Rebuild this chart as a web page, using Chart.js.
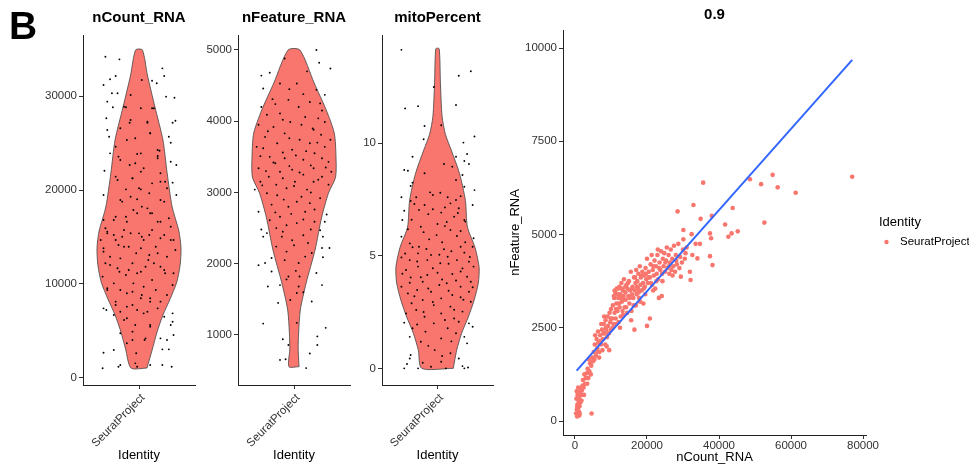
<!DOCTYPE html>
<html>
<head>
<meta charset="utf-8">
<script src="https://cdn.jsdelivr.net/npm/chart.js@4"></script>
<style>
  html, body { margin: 0; padding: 0; background: #fff; }
  #wrap { position: relative; width: 969px; height: 468px; overflow: hidden; }
  #wrap canvas { position: absolute; left: 0; top: 0; }
  #tag { position: absolute; left: 9px; top: 6px; font: bold 39px "Liberation Sans", Arial, sans-serif; line-height: 39px; color: #000; }
</style>
</head>
<body>
<div id="wrap">
  <canvas id="countChart" width="969" height="468"></canvas>
  <canvas id="featureChart" width="969" height="468"></canvas>
  <canvas id="mitoChart" width="969" height="468"></canvas>
  <canvas id="scatterChart" width="969" height="468"></canvas>
  <div id="tag">B</div>
</div>
<script>
const identityLabel = 'SeuratProject';

// violin outlines: value -> relative density (1 = widest)
const countProfileValues = [1060, 3090, 4890, 6700, 8400, 10210, 12040, 13830, 15640, 18190, 21800, 25320, 28830, 32230, 34900];
const countProfileDensity = [0.19, 0.32, 0.43, 0.57, 0.74, 0.90, 0.98, 1.0, 0.95, 0.79, 0.67, 0.57, 0.38, 0.20, 0.08];
const featureProfileValues = [555, 800, 1030, 1350, 1730, 2190, 2655, 2990, 3215, 3495, 3830, 4154, 4537, 5000];
const featureProfileDensity = [0.12, 0.10, 0.11, 0.15, 0.29, 0.50, 0.66, 0.82, 0.99, 1.0, 0.96, 0.77, 0.48, 0.14];
const mitoProfileValues = [0, 0.8, 1.56, 2.28, 3.03, 3.78, 4.49, 5.38, 6.27, 7.46, 8.65, 9.7, 10.4, 11.2, 12.7, 14.2];
const mitoProfileDensity = [0.38, 0.46, 0.58, 0.74, 0.88, 0.98, 1.0, 0.90, 0.72, 0.67, 0.53, 0.33, 0.19, 0.11, 0.07, 0.04];

// jittered cells: [jitter offset, value]
const countPoints = [
  [-0.36,34180],[-0.21,33900],[0.25,32940],[0.27,32130],[-0.25,32130],[-0.31,31780],[-0.38,31170],[0.14,31630],[0.19,31350],
  [-0.29,30290],[-0.23,30290],[0.29,29930],[0.38,29820],[-0.34,29400],[-0.28,28800],[-0.14,28800],[0.02,28690],[0.16,28690],
  [-0.35,27630],[0.39,27370],[0.36,27160],[0.09,27160],[-0.10,27160],[-0.34,26380],[0.12,26030],[0.32,25670],[-0.32,25670],
  [0.34,25030],[-0.13,25320],[-0.25,24610],[0.22,24180],[-0.31,23900],[-0.02,23830],[0.20,23620],[-0.20,23190],[-0.04,22840],
  [0.34,23010],[0.40,22660],[0.05,22310],[-0.37,22050],[0.23,21780],[-0.23,21060],[-0.07,21240],[0.14,20710],[0.28,20880],
  [0.36,20780],[-0.14,20070],[0.02,20070],[0.30,20180],[0.40,19470],[-0.38,19470],[-0.02,19010],[-0.18,18760],[0.27,18760],
  [0.09,18050],[-0.06,17870],[0.14,17520],[-0.25,17160],[0.32,16990],[-0.38,16810],[-0.13,16630],[0.20,16630],[0.34,16100],
  [0.14,15740],[-0.16,15740],[-0.34,15390],[0.00,15390],[0.27,15210],[-0.25,14680],[0.05,14680],[-0.41,14680],[0.37,14680],
  [-0.11,13970],[0.18,13970],[-0.38,13800],[0.39,13620],[-0.03,13270],[-0.31,12900],[0.30,12900],[-0.20,12730],[0.10,12550],
  [-0.36,12200],[-0.07,12200],[0.23,11840],[0.27,11490],[-0.23,11670],[0.02,11310],[0.37,11140],[-0.14,10960],[-0.39,10780],
  [0.14,10430],[-0.06,10070],[-0.27,10070],[0.36,9890],[0.05,9710],[0.18,9360],[-0.34,9360],[-0.13,9010],[0.30,8830],
  [0.02,8480],[-0.25,8120],[0.12,8120],[-0.07,7770],[-0.38,7410],[-0.35,7230],[0.20,7410],[-0.20,7050],[0.05,6880],
  [0.36,6880],[-0.27,6700],[0.27,6520],[-0.13,6350],[0.36,5990],[0.12,5640],[0.34,5640],[-0.20,4760],[0.37,4570],
  [-0.07,4930],[0.23,4220],[0.06,4040],[-0.13,3690],[0.30,4040],[-0.27,2980],[0.25,3050],[-0.38,2690],[-0.03,2630],
  [0.32,3050],[-0.20,1380],[-0.04,1560],[0.12,1380],[0.25,1380],[0.35,1200],[-0.39,1030],[-0.02,1200],[-0.22,1200],
  [-0.34,15570],[-0.27,15220],[-0.18,15030],[-0.09,15400],[0.03,15030],[0.11,15220],[0.23,14860],[0.34,14680],[-0.38,13440],
  [-0.22,14150],[-0.16,13970],[0.02,13800],[0.11,13090],[0.20,13270],[0.28,11140],[-0.31,12020],[-0.21,11310],[-0.11,11490],
  [-0.02,11140],[0.07,11840],[0.16,12200],[-0.34,9540],[-0.20,9360],[-0.07,9180],[0.03,8830],[0.12,8480],[0.23,8120],
  [-0.25,7770],[-0.13,7590],[-0.02,7230],[0.09,7050],[-0.16,6170],[-0.04,5640],[0.12,5460],[-0.07,4040],[0.07,4220],
  [0.03,31710],[-0.09,30110],[-0.16,28870],[0.14,28690],[-0.09,27450],[0.09,27270],[-0.20,26570],[0.12,26030],[-0.04,25500],
  [0.20,24260],[-0.22,23550],[0.02,23900],[-0.10,22660],[0.20,23380],[0.02,21950],[-0.25,21420],[-0.07,21250],[0.23,20890],
  [0.00,20180],[0.11,19650],[-0.20,18940],[-0.09,19290],[0.23,18940],[0.03,18230],[-0.27,16810],[-0.14,17160],[-0.02,17520],
  [0.12,17520],[0.23,16630],[-0.36,15930]
];
const featurePoints = [
  [0.24,5000],[0.27,4820],[0.39,4740],[-0.10,4880],[-0.35,4640],[-0.26,4680],[0.14,4700],[-0.15,4530],[-0.33,4460],
  [0.24,4440],[0.03,4530],[0.33,4370],[-0.23,4310],[-0.06,4300],[0.17,4270],[-0.35,4200],[0.28,4250],[-0.15,4110],
  [0.05,4200],[-0.29,4090],[0.12,4060],[0.26,4040],[-0.04,3990],[-0.38,3950],[0.33,3990],[-0.22,3920],[0.21,3880],
  [-0.10,3830],[-0.31,3780],[0.29,3810],[0.06,3740],[0.39,3740],[-0.18,3690],[0.17,3690],[-0.40,3640],[-0.02,3600],
  [0.33,3640],[-0.26,3500],[-0.36,3510],[0.22,3550],[-0.10,3480],[0.10,3460],[0.37,3430],[-0.20,3410],[-0.38,3340],
  [0.21,3340],[-0.02,3320],[-0.15,3290],[0.40,3290],[0.10,3250],[-0.27,3220],[0.30,3220],[-0.36,3150],[0.01,3150],
  [0.21,3150],[-0.19,3110],[0.37,3110],[-0.42,3040],[-0.08,3060],[0.14,3040],[-0.29,2990],[0.28,2920],[-0.11,2900],
  [0.03,2870],[0.17,2850],[-0.24,2830],[-0.06,2800],[-0.38,2730],[0.12,2730],[0.35,2690],[-0.15,2660],[-0.26,2610],
  [0.22,2590],[0.03,2570],[0.33,2590],[-0.08,2540],[-0.19,2500],[-0.35,2480],[0.28,2470],[-0.29,2430],[0.10,2400],
  [-0.13,2380],[-0.33,2380],[0.31,2380],[-0.02,2330],[0.15,2290],[-0.19,2240],[0.30,2220],[0.38,2220],[-0.08,2170],
  [0.19,2150],[-0.24,2080],[0.31,2090],[-0.38,1980],[-0.31,2010],[0.05,2010],[0.24,1870],[-0.24,1890],[-0.06,1820],
  [0.06,1820],[-0.15,1700],[0.30,1700],[-0.28,1680],[0.05,1680],[0.03,1590],[-0.04,1490],[0.19,1470],[-0.17,1450],
  [0.03,1170],[-0.33,1160],[0.34,1100],[-0.12,940],[0.25,980],[-0.06,860],[0.25,860],[-0.15,650],[-0.09,660],
  [0.17,740],[0.13,535],
  [-0.05,4450],[0.10,4380],[-0.20,4240],[0.30,4150],[-0.12,4020],[0.08,3950],[0.20,3900],[-0.28,3860],[-0.05,3760],[0.25,3700],
  [-0.33,3620],[0.13,3580],[-0.12,3560],[0.02,3520],[0.30,3480],[-0.22,3420],[0.18,3380],[-0.05,3370],[0.34,3350],[-0.30,3300],
  [0.06,3280],[-0.12,3200],[0.26,3180],[-0.34,3100],[0.00,3090],[0.18,3000],[-0.18,2960],[0.08,2940],[-0.03,2700],[0.22,2760],
  [-0.20,2720],[0.10,2620],[-0.12,2450],[0.18,2480],[0.00,2260],[-0.10,2050],[0.12,2100],[0.02,1900],[-0.08,1780],[0.10,1600]
];
const mitoPoints = [
  [-0.39,14.15],[0.36,13.2],[0.23,13.0],[-0.04,12.5],[-0.35,11.55],[-0.21,11.65],[0.20,11.7],[-0.14,10.77],[0.04,10.8],
  [0.40,10.3],[-0.15,10.18],[0.28,10.03],[-0.27,9.4],[0.20,9.4],[0.32,9.52],[0.29,9.21],[0.07,9.08],[-0.36,8.81],
  [-0.32,8.78],[0.34,9.08],[0.16,8.96],[-0.14,8.67],[0.27,8.59],[-0.27,8.25],[0.20,8.37],[-0.29,8.1],[0.29,8.07],
  [0.40,7.92],[-0.08,7.82],[0.03,7.8],[-0.39,7.6],[-0.23,7.6],[0.11,7.6],[0.20,7.48],[-0.29,7.44],[-0.14,7.26],
  [0.14,7.33],[0.38,7.26],[-0.20,7.04],[-0.05,7.07],[0.23,7.11],[-0.36,7.0],[0.04,6.92],[0.18,6.74],[0.29,6.59],
  [-0.38,6.59],[-0.18,6.29],[0.00,6.41],[0.08,6.32],[0.30,6.52],[-0.32,6.18],[0.14,6.15],[-0.39,5.85],[-0.09,5.73],
  [0.21,5.88],[0.39,5.78],[-0.01,5.92],[-0.20,5.4],[0.25,5.4],[-0.27,5.38],[0.38,5.4],[0.07,5.29],[-0.21,5.11],
  [-0.07,5.04],[0.29,5.14],[-0.39,4.93],[0.11,4.96],[-0.30,4.81],[-0.11,4.81],[0.21,4.81],[0.34,4.74],[0.03,4.67],
  [-0.21,4.52],[0.27,4.44],[-0.34,4.37],[0.39,4.52],[0.00,4.25],[-0.11,4.15],[0.16,4.19],[0.32,4.07],[-0.29,4.04],
  [-0.16,3.85],[0.10,3.78],[0.02,3.7],[0.36,3.85],[-0.39,3.63],[0.25,3.63],[-0.22,3.48],[-0.07,3.4],[-0.32,3.33],
  [0.16,3.26],[0.34,3.4],[0.04,3.11],[-0.16,3.04],[0.25,3.16],[-0.28,2.89],[0.36,2.96],[-0.04,2.81],[0.14,2.74],
  [-0.23,2.59],[0.27,2.52],[-0.34,2.44],[0.04,2.44],[-0.14,2.29],[0.18,2.22],[-0.36,2.03],[0.34,2.0],[-0.04,2.0],
  [0.23,2.07],[-0.27,1.78],[0.11,1.78],[0.38,1.85],[-0.13,1.63],[0.20,1.56],[-0.30,1.4],[0.29,1.4],[0.04,1.33],
  [-0.18,1.18],[0.32,1.11],[-0.03,0.81],[-0.29,0.59],[0.14,0.67],[-0.30,0.44],[0.23,0.44],[-0.16,0.25],[0.04,0.29],
  [-0.36,0],[-0.21,0],[-0.07,0.07],[0.09,0],[0.27,0.1],[0.29,0],[0.33,0.04],[-0.33,0.19],
  [-0.05,7.7],[0.25,7.65],[-0.25,7.3],[0.08,7.15],[-0.10,6.85],[0.22,6.9],[-0.28,6.6],[0.10,6.5],[-0.15,6.05],[0.25,6.1],
  [0.05,5.6],[-0.30,5.55],[0.30,5.6],[-0.12,5.3],[0.15,5.2],[-0.35,5.1],[0.02,5.05],[0.35,4.95],[-0.22,4.75],[0.12,4.65],
  [-0.05,4.45],[0.25,4.3],[-0.38,4.2],[-0.18,4.05],[0.05,3.95],[0.20,3.9],[-0.30,3.8],[0.38,3.6],[-0.10,3.55],[0.12,3.45],
  [-0.25,3.2],[0.28,3.05],[-0.05,2.95],[0.18,2.6],[-0.15,2.5],[0.08,2.15],[-0.22,1.95],[0.15,1.2],[-0.10,1.0],[0.05,0.55]
];

// scatter: [nCount_RNA, nFeature_RNA]
const scatterCells = [
  [300,200],[600,120],[800,200],[500,300],[900,350],[700,450],[1100,250],[1000,550],[1300,400],[1200,650],[1500,500],
  [1400,780],[1700,700],[1600,880],[1900,820],[2100,950],[2400,900],[2200,1100],[2800,1000],[3000,1150],[2600,1250],
  [3300,1280],[3700,1150],[3500,1400],[4000,1330],[4600,200],[4200,1550],[3900,1650],[4500,1480],[4800,1700],[5000,1600],
  [400,600],[700,700],[500,800],[1200,150],[900,900],
  [5200,1850],[5500,2050],[5800,1750],[6000,2200],[6200,1950],[6500,2100],[6800,1850],[7000,2300],[7200,2050],[7500,2450],
  [7600,1900],[7800,2200],[8000,2600],[8200,2350],[8400,2050],[8500,2700],[8700,2450],[8900,2250],[9000,2800],[9200,2550],
  [9400,2350],[9600,2900],[9800,2650],[10000,2450],[10000,3000],[5600,2300],[6400,2400],[7300,2600],[8100,2800],[9500,1900],
  [6700,1700],[8800,2000],
  [10300,2750],[10500,3100],[10700,2600],[10900,3300],[11000,2900],[11200,3450],[11300,2750],[11500,3150],[11600,3550],
  [11800,2950],[12000,3300],[12100,2650],[12300,3600],[12400,3050],[12600,3400],[12700,2800],[12900,3700],[13000,3200],
  [13200,2950],[13300,3500],[13500,3350],[13600,3800],[13800,3050],[14000,3450],[14100,3250],[14300,3650],[14500,2900],
  [14600,3550],[14800,3350],[15000,3750],[15100,3150],[15300,3500],[15500,4000],[15600,2700],[15800,3400],[11000,3500],
  [12000,3550],[13000,3550],[14000,3600],[10500,2500],[11500,2600],[12500,2500],
  [16000,3600],[16200,3300],[16400,3850],[16500,2450],[16600,3500],[16800,3700],[17000,4050],[17100,3400],[17300,3750],
  [17500,3550],[17600,3950],[17800,3300],[18000,4150],[18200,3650],[18300,3850],[18500,3500],[18700,4000],[18900,3700],
  [19000,3150],[19200,3900],[19400,3600],[19600,4100],[19800,3800],[20000,2550],[20000,4350],[20200,3700],[15700,2950],
  [16900,3100],[18100,3200],[19500,3400],
  [20500,4000],[20800,2750],[20800,3850],[21000,4200],[21300,4450],[21400,3650],[21600,4050],[21900,3900],[22100,4300],
  [22300,3550],[22500,4150],[22700,3950],[22900,4450],[23100,3800],[23300,3300],[23500,4250],[23700,4050],[23900,4550],
  [24100,3350],[24200,3950],[24400,4350],[24600,4150],[24800,4500],[25000,4000],[21700,3500],[23000,4600],
  [25300,4300],[25500,4650],[25700,4100],[26000,4450],[26200,3950],[26400,4250],[26600,4600],[26800,4050],[27000,4350],
  [27300,4150],[27500,4700],[27800,4000],[28000,4450],[28300,4200],[28500,5620],[28700,4750],[29000,4100],[29200,4400],
  [29400,3870],[29700,4250],[30000,4600],[30100,5120],[30100,4870],[30500,4350],
  [31900,4000],[32100,3780],[32400,5010],[32600,4450],[32900,5790],[34000,4360],[34700,4750],[34900,5420],[35600,6390],
  [37500,5030],[37800,4900],[37500,4420],[38000,5500],[38200,4180],[41700,5270],[42600,4940],[43500,5030],[43800,5710],
  [45200,5085],[48600,6480],[51700,6350],[52600,5320],[54900,6600],[56300,6265],[61300,6120],[77000,6550],[31000,4650],
  [33500,4750],[30700,4500],
  [10800,3350],[11400,3000],[11900,3400],[12200,3150],[12800,3300],[13400,2850],[13700,3250],[14200,3050],[14700,3700],
  [15200,3300],[15900,3550],[16300,3100],[16700,3850],[17200,3600],[17700,3450],[18400,3900],[19100,3550],[19700,3950],
  [20400,3850],[21100,3700],[21800,4150],[22600,3750],[23400,4100],[24300,3750],[25100,4250],[26100,4150],[27100,3900],
  [28100,4300],[9900,2750],[9300,2350],[8600,2500],[7900,2350],[7100,2150],[6300,1850],[5400,1650],[4400,1250],[3400,1000],
  [2500,700],[1800,550],[1000,750],[600,380],[1300,200]
];
// linear fit endpoints
const fitCount = [460, 77000];
const fitFeature = [1350, 9680];

const countTicks = [0, 10000, 20000, 30000];
const featureTicks = [1000, 2000, 3000, 4000, 5000];
const mitoTicks = [0, 5, 10];
const scatterXTicks = [0, 20000, 40000, 60000, 80000];
const scatterYTicks = [0, 2500, 5000, 7500, 10000];
const correlationLabel = '0.9';

Chart.defaults.font.family = '"Liberation Sans", Arial, Helvetica, sans-serif';
Chart.defaults.color = '#333';

const FILL = '#F8766D';
const W = 969;

const axisGrid = { display: true, drawOnChartArea: false, drawTicks: true, tickLength: 4, color: '#333', lineWidth: 1 };
const axisBorder = { display: true, color: '#222', width: 1 };

function tickList(values) {
    return scale => { scale.ticks = values.map(v => ({ value: v })); };
}

function violinOutline(values, density, halfWidth) {
    const right = values.map((v, i) => ({ x: density[i] * halfWidth, y: v }));
    const left = values.map((v, i) => ({ x: -density[i] * halfWidth, y: v })).reverse();
    return right.concat(left, [right[0]]);
}

function makeViolin(id, cfg) {
    new Chart(document.getElementById(id), {
        type: 'scatter',
        data: {
            datasets: [
                {
                    data: cfg.points.map(p => ({ x: p[0], y: p[1] })),
                    pointRadius: 0.95,
                    backgroundColor: '#000',
                    borderWidth: 0,
                    order: 0
                },
                {
                    data: violinOutline(cfg.values, cfg.density, 0.45),
                    showLine: true,
                    fill: 'shape',
                    backgroundColor: FILL,
                    borderColor: '#444',
                    borderWidth: 0.8,
                    pointRadius: 0,
                    tension: 0.25,
                    order: 1
                }
            ]
        },
        options: {
            responsive: false,
            animation: false,
            events: [],
            layout: { padding: { left: cfg.left - 60, right: W - cfg.right, top: 0, bottom: 1 } },
            plugins: {
                legend: { display: false },
                tooltip: { enabled: false },
                title: {
                    display: true,
                    fullSize: false,
                    text: cfg.title,
                    color: '#000',
                    font: { size: 15, weight: 'bold' },
                    padding: { top: 8.5, bottom: 8.5 }
                }
            },
            scales: {
                x: {
                    type: 'linear',
                    min: -0.6,
                    max: 0.6,
                    afterBuildTicks: tickList([0]),
                    afterFit: s => { s.height = 82; },
                    ticks: {
                        callback: () => identityLabel,
                        minRotation: 45,
                        maxRotation: 45,
                        autoSkip: false,
                        padding: 2,
                        labelOffset: 4,
                        color: '#333',
                        font: { size: 11.5 }
                    },
                    grid: axisGrid,
                    border: axisBorder,
                    title: { display: true, text: 'Identity', color: '#000', font: { size: 13 }, padding: { top: 4, bottom: 4 } }
                },
                y: {
                    min: cfg.min,
                    max: cfg.max,
                    afterBuildTicks: tickList(cfg.ticks),
                    afterFit: s => { s.width = 60; },
                    ticks: { callback: v => String(v), padding: 2, color: '#333', font: { size: 11.5 } },
                    grid: axisGrid,
                    border: axisBorder
                }
            }
        }
    });
}

makeViolin('countChart', {
    title: 'nCount_RNA', left: 83, right: 195, min: -745, max: 36490, ticks: countTicks,
    values: countProfileValues, density: countProfileDensity, points: countPoints
});
makeViolin('featureChart', {
    title: 'nFeature_RNA', left: 238, right: 350, min: 298, max: 5210, ticks: featureTicks,
    values: featureProfileValues, density: featureProfileDensity, points: featurePoints
});
makeViolin('mitoChart', {
    title: 'mitoPercent', left: 382, right: 493, min: -0.74, max: 14.81, ticks: mitoTicks,
    values: mitoProfileValues, density: mitoProfileDensity, points: mitoPoints
});

// legend drawn to the right of the scatter panel, centred vertically like ggplot
const identityLegend = {
    id: 'identityLegend',
    afterDraw(chart) {
        const ctx = chart.ctx;
        const area = chart.chartArea;
        const mid = (area.top + area.bottom) / 2;
        ctx.save();
        ctx.textBaseline = 'middle';
        ctx.fillStyle = '#000';
        ctx.font = '13px "Liberation Sans", Arial, sans-serif';
        ctx.fillText('Identity', area.right + 13, mid - 10);
        ctx.fillStyle = FILL;
        ctx.beginPath();
        ctx.arc(area.right + 20.5, mid + 9.5, 2.2, 0, Math.PI * 2);
        ctx.fill();
        ctx.fillStyle = '#000';
        ctx.font = '11.5px "Liberation Sans", Arial, sans-serif';
        ctx.fillText(identityLabel, area.right + 34, mid + 9.5);
        ctx.restore();
    }
};

new Chart(document.getElementById('scatterChart'), {
    type: 'scatter',
    data: {
        datasets: [
            {
                data: fitCount.map((x, i) => ({ x, y: fitFeature[i] })),
                showLine: true,
                borderColor: '#3366FF',
                borderWidth: 2,
                pointRadius: 0,
                order: 0
            },
            {
                data: scatterCells.map(c => ({ x: c[0], y: c[1] })),
                pointRadius: 2.3,
                backgroundColor: FILL,
                borderWidth: 0,
                order: 1
            }
        ]
    },
    options: {
        responsive: false,
        animation: false,
        events: [],
        layout: { padding: { left: 503.2, right: W - 866, top: 0, bottom: 1.2 } },
        plugins: {
            legend: { display: false },
            tooltip: { enabled: false },
            title: {
                display: true,
                fullSize: false,
                text: correlationLabel,
                color: '#000',
                font: { size: 15, weight: 'bold' },
                padding: { top: 6, bottom: 6 }
            }
        },
        scales: {
            x: {
                type: 'linear',
                min: -3333,
                max: 80833,
                afterBuildTicks: tickList(scatterXTicks),
                afterFit: s => { s.height = 31.8; },
                ticks: { callback: v => String(v), padding: 0, color: '#333', font: { size: 11.5 }, maxRotation: 0 },
                grid: axisGrid,
                border: axisBorder,
                title: { display: true, text: 'nCount_RNA', color: '#000', font: { size: 13 }, padding: { top: 0, bottom: 2 } }
            },
            y: {
                min: -375,
                max: 10483,
                afterBuildTicks: tickList(scatterYTicks),
                afterFit: s => { s.width = 59.8; },
                ticks: { callback: v => String(v), padding: 2, color: '#333', font: { size: 11.5 } },
                grid: axisGrid,
                border: axisBorder,
                title: { display: true, text: 'nFeature_RNA', color: '#000', font: { size: 13 }, padding: { top: 4, bottom: 4 } }
            }
        }
    },
    plugins: [identityLegend]
});
</script>
</body>
</html>
